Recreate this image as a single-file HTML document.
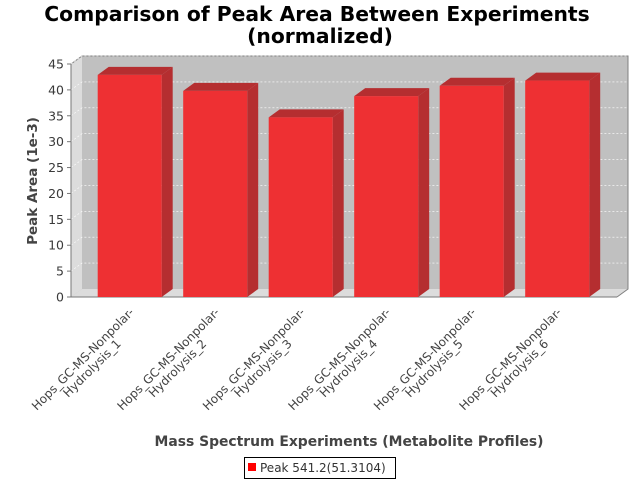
<!DOCTYPE html>
<html><head><meta charset="utf-8"><style>
body{margin:0;background:#fff}
svg{display:block;font-family:"DejaVu Sans","Liberation Sans",sans-serif}
</style></head><body>
<svg id="c" width="640" height="480">
<text x="317" y="21" font-size="20.3" font-weight="bold" text-anchor="middle">Comparison of Peak Area Between Experiments</text>
<text x="320" y="43" font-size="20.3" font-weight="bold" text-anchor="middle">(normalized)</text>
<polygon points="71,64 82,56 628,56 628,289 617,297 71,297" fill="#c0c0c0"/>
<polygon points="71,64 82,56 82,289 71,297" fill="#dcdcdc"/>
<polygon points="71,297 82,289 628,289 617,297" fill="#dcdcdc"/>
<polyline points="71,64 82,56 628,56 628,289 617,297" fill="none" stroke="#808080"/>
<g id="grid"></g>
<line x1="71" y1="64" x2="71" y2="297" stroke="#777"/>
<line x1="71" y1="297" x2="617" y2="297" stroke="#777"/>
<g id="yt"></g>
<g id="bars"></g>
<g id="xl"></g>
<text transform="translate(37,181) rotate(-90)" font-size="13.5" font-weight="bold" fill="#444" text-anchor="middle">Peak Area (1e-3)</text>
<text x="349" y="446" font-size="13.9" font-weight="bold" fill="#444" text-anchor="middle">Mass Spectrum Experiments (Metabolite Profiles)</text>
<g>
<rect x="244.5" y="457.5" width="151" height="21" fill="#fff" stroke="#000"/>
<rect x="248" y="463" width="8" height="8" fill="#ff0000"/>
<text x="260" y="472" font-size="12" fill="#333">Peak 541.2(51.3104)</text>
</g>
</svg>
<script>
const categories=["Hydrolysis_1","Hydrolysis_2","Hydrolysis_3","Hydrolysis_4","Hydrolysis_5","Hydrolysis_6"];
const values=[42.9,39.8,34.7,38.8,40.8,41.8];
const yTicks=[0,5,10,15,20,25,30,35,40,45];
const NS="http://www.w3.org/2000/svg";
const y0=297,y1=64,vmax=45,dx=11,dy=8;
const yS=v=>y0-(v/vmax)*(y0-y1);
const xS=i=>97.7+i*85.5;
const bw=64;
function mk(t,a,p){const e=document.createElementNS(NS,t);for(const k in a)e.setAttribute(k,a[k]);p.appendChild(e);return e;}
const grid=document.getElementById('grid'),yt=document.getElementById('yt'),bars=document.getElementById('bars'),xl=document.getElementById('xl');
yTicks.forEach(v=>{const y=yS(v);
 if(v>0){const g=mk('polyline',{points:`71,${y} ${71+dx},${y-dy} 628,${y-dy}`,fill:'none',stroke:'#fff','stroke-width':0.6,'stroke-dasharray':'2,2'},grid);
 
 }
 const tk=mk('line',{x1:67,y1:y,x2:71,y2:y,stroke:'#777'},yt);
 
 
 const t=mk('text',{x:64,y:y+4.5,'font-size':12.5,fill:'#3a3a3a','text-anchor':'end'},yt);t.textContent=v;
 
 
});
values.forEach((v,i)=>{const x=xS(i),y=yS(v);
 const g=mk('g',{},bars);
 
 
 mk('polygon',{points:`${x},${y} ${x+dx},${y-dy} ${x+bw+dx},${y-dy} ${x+bw},${y}`,fill:'#b52e30'},g);
 mk('polygon',{points:`${x+bw},${y} ${x+bw+dx},${y-dy} ${x+bw+dx},${y0-dy} ${x+bw},${y0}`,fill:'#b52e30'},g);
 mk('rect',{x:x,y:y,width:bw,height:y0-y,fill:'#ee3033'},g);
 const cx=x+bw/2-44;
 const lg=mk('g',{transform:`translate(${cx},362) rotate(-45)`},xl);
 
 
 const t1=mk('text',{x:0,y:0,'font-size':12,fill:'#444','text-anchor':'middle'},lg);t1.textContent='Hops_GC-MS-Nonpolar-';
 const t2=mk('text',{x:0,y:13,'font-size':12,fill:'#444','text-anchor':'middle'},lg);t2.textContent=categories[i];
});
</script>
</body></html>
